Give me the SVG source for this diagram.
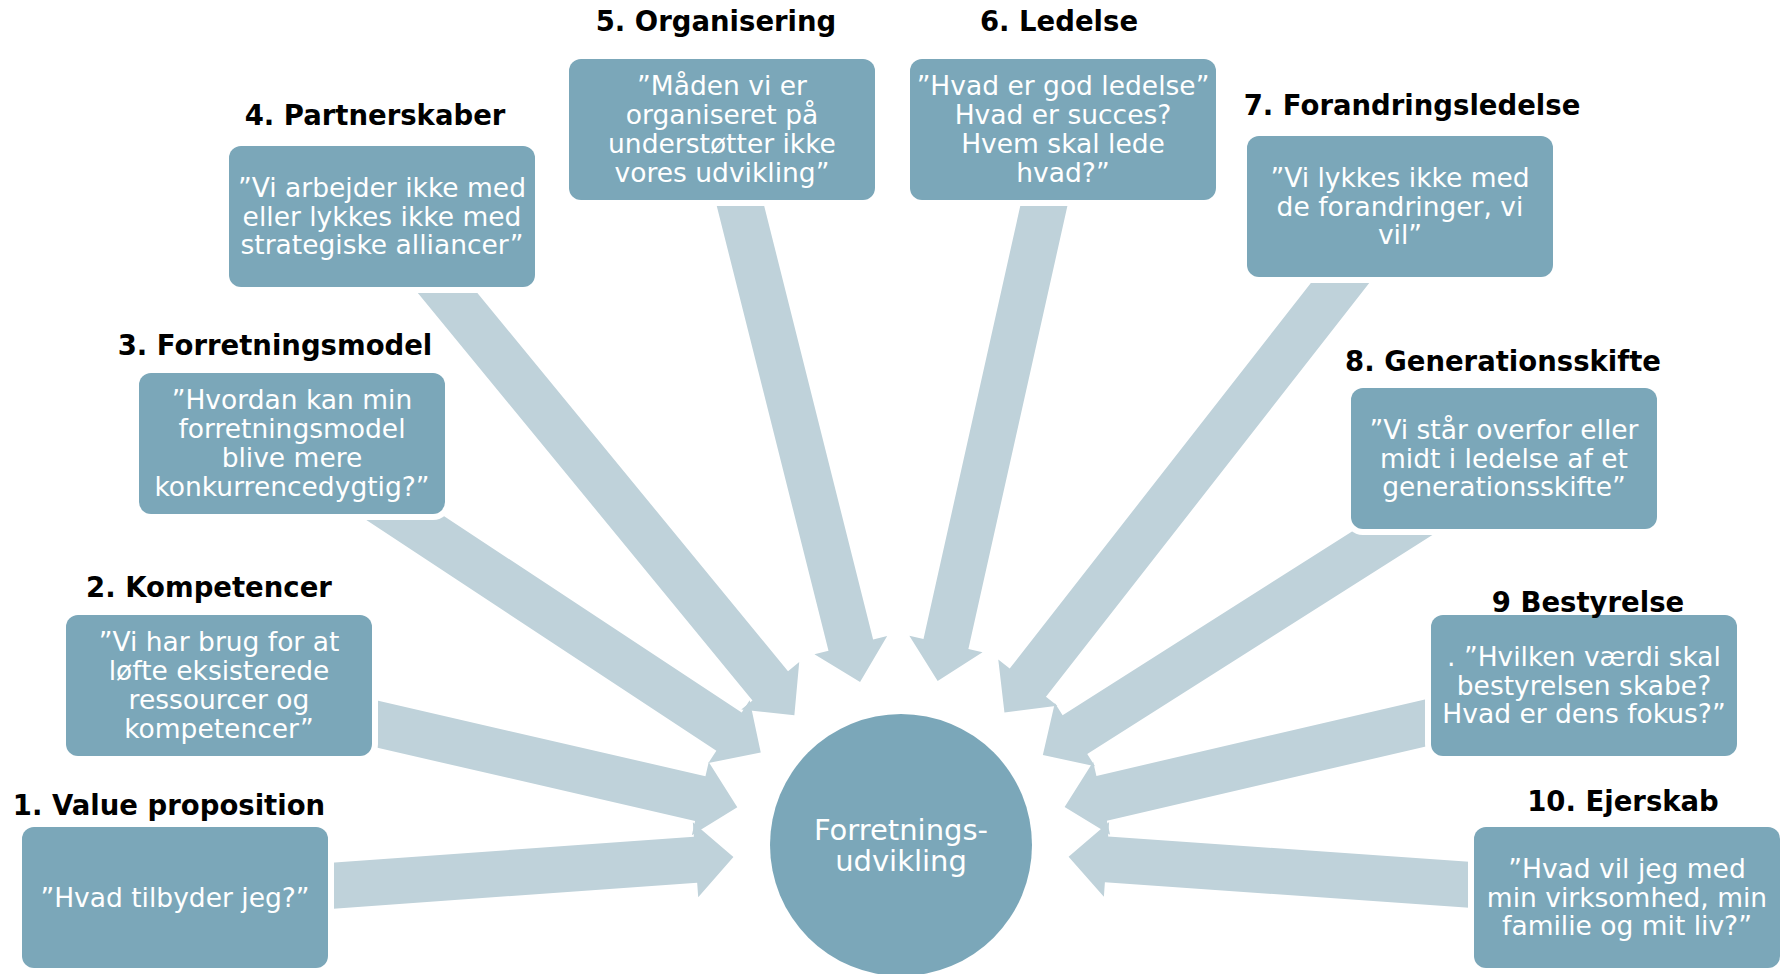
<svg xmlns="http://www.w3.org/2000/svg" width="1789" height="974" viewBox="0 0 1789 974">
<style>
.box{fill:#7ba7b9;stroke:#ffffff;stroke-width:12;paint-order:stroke}
.arr{fill:#bfd2da}
.t{font-family:"DejaVu Sans",Verdana,sans-serif;font-weight:bold;font-size:27.5px;fill:#000000;text-anchor:middle}
.b{font-family:"DejaVu Sans",Verdana,sans-serif;font-size:26.5px;fill:#ffffff;text-anchor:middle}
.c{font-family:"DejaVu Sans",Verdana,sans-serif;font-size:29px;fill:#ffffff;text-anchor:middle}
</style>
<defs>
<polygon id="arrow" points="-740,-23 -206,-23 -206,-37.5 -168,0 -206,37.5 -206,23 -740,23"/>
</defs>
<rect width="1789" height="974" fill="#ffffff"/>
<g id="connectors" class="arr">
<use href="#arrow" transform="translate(901 845) rotate(-4.1)"/>
<use href="#arrow" transform="translate(901 845) rotate(13)"/>
<use href="#arrow" transform="translate(901 845) rotate(33.4)"/>
<use href="#arrow" transform="translate(901 845) rotate(50.6)"/>
<use href="#arrow" transform="translate(901 845) rotate(75.9)"/>
<use href="#arrow" transform="translate(901 845) rotate(102.6)"/>
<use href="#arrow" transform="translate(901 845) rotate(128)"/>
<use href="#arrow" transform="translate(901 845) rotate(147.6)"/>
<use href="#arrow" transform="translate(901 845) rotate(166.9)"/>
<use href="#arrow" transform="translate(901 845) rotate(184)"/>
</g>
<g id="center">
<circle cx="901" cy="845" r="131" fill="#7ba7b9"/>
<text class="c" x="901" y="840">Forretnings-</text>
<text class="c" x="901" y="870.5">udvikling</text>
</g>
<g id="node1">
<rect class="box" x="22" y="827" width="306" height="141" rx="12"/>
<text class="b" x="175" y="906.5">”Hvad tilbyder jeg?”</text>
<text class="t" x="169" y="815">1. Value proposition</text>
</g>
<g id="node2">
<rect class="box" x="66" y="615" width="306" height="141" rx="12"/>
<text class="b" x="219"><tspan x="219" y="651.3">”Vi har brug for at</tspan><tspan x="219" y="680.1">løfte eksisterede</tspan><tspan x="219" y="708.9">ressourcer og</tspan><tspan x="219" y="737.7">kompetencer”</tspan></text>
<text class="t" x="209" y="597">2. Kompetencer</text>
</g>
<g id="node3">
<rect class="box" x="139" y="373" width="306" height="141" rx="12"/>
<text class="b" x="292"><tspan x="292" y="409.3">”Hvordan kan min</tspan><tspan x="292" y="438.1">forretningsmodel</tspan><tspan x="292" y="466.9">blive mere</tspan><tspan x="292" y="495.7">konkurrencedygtig?”</tspan></text>
<text class="t" x="275" y="355">3. Forretningsmodel</text>
</g>
<g id="node4">
<rect class="box" x="229" y="146" width="306" height="141" rx="12"/>
<text class="b" x="382"><tspan x="382" y="196.7">”Vi arbejder ikke med</tspan><tspan x="382" y="225.5">eller lykkes ikke med</tspan><tspan x="382" y="254.3">strategiske alliancer”</tspan></text>
<text class="t" x="375" y="125">4. Partnerskaber</text>
</g>
<g id="node5">
<rect class="box" x="569" y="59" width="306" height="141" rx="12"/>
<text class="b" x="722"><tspan x="722" y="95.3">”Måden vi er</tspan><tspan x="722" y="124.1">organiseret på</tspan><tspan x="722" y="152.9">understøtter ikke</tspan><tspan x="722" y="181.7">vores udvikling”</tspan></text>
<text class="t" x="716" y="31">5. Organisering</text>
</g>
<g id="node6">
<rect class="box" x="910" y="59" width="306" height="141" rx="12"/>
<text class="b" x="1063"><tspan x="1063" y="95.3">”Hvad er god ledelse”</tspan><tspan x="1063" y="124.1">Hvad er succes?</tspan><tspan x="1063" y="152.9">Hvem skal lede</tspan><tspan x="1063" y="181.7">hvad?”</tspan></text>
<text class="t" x="1059" y="31">6. Ledelse</text>
</g>
<g id="node7">
<rect class="box" x="1247" y="136" width="306" height="141" rx="12"/>
<text class="b" x="1400"><tspan x="1400" y="186.7">”Vi lykkes ikke med</tspan><tspan x="1400" y="215.5">de forandringer, vi</tspan><tspan x="1400" y="244.3">vil”</tspan></text>
<text class="t" x="1412" y="115">7. Forandringsledelse</text>
</g>
<g id="node8">
<rect class="box" x="1351" y="388" width="306" height="141" rx="12"/>
<text class="b" x="1504"><tspan x="1504" y="438.7">”Vi står overfor eller</tspan><tspan x="1504" y="467.5">midt i ledelse af et</tspan><tspan x="1504" y="496.3">generationsskifte”</tspan></text>
<text class="t" x="1503" y="371">8. Generationsskifte</text>
</g>
<g id="node9">
<rect class="box" x="1431" y="615" width="306" height="141" rx="12"/>
<text class="b" x="1584"><tspan x="1584" y="665.7">. ”Hvilken værdi skal</tspan><tspan x="1584" y="694.5">bestyrelsen skabe?</tspan><tspan x="1584" y="723.3">Hvad er dens fokus?”</tspan></text>
<text class="t" x="1588" y="612">9 Bestyrelse</text>
</g>
<g id="node10">
<rect class="box" x="1474" y="827" width="306" height="141" rx="12"/>
<text class="b" x="1627"><tspan x="1627" y="877.7">”Hvad vil jeg med</tspan><tspan x="1627" y="906.5">min virksomhed, min</tspan><tspan x="1627" y="935.3">familie og mit liv?”</tspan></text>
<text class="t" x="1623" y="811">10. Ejerskab</text>
</g>
</svg>
